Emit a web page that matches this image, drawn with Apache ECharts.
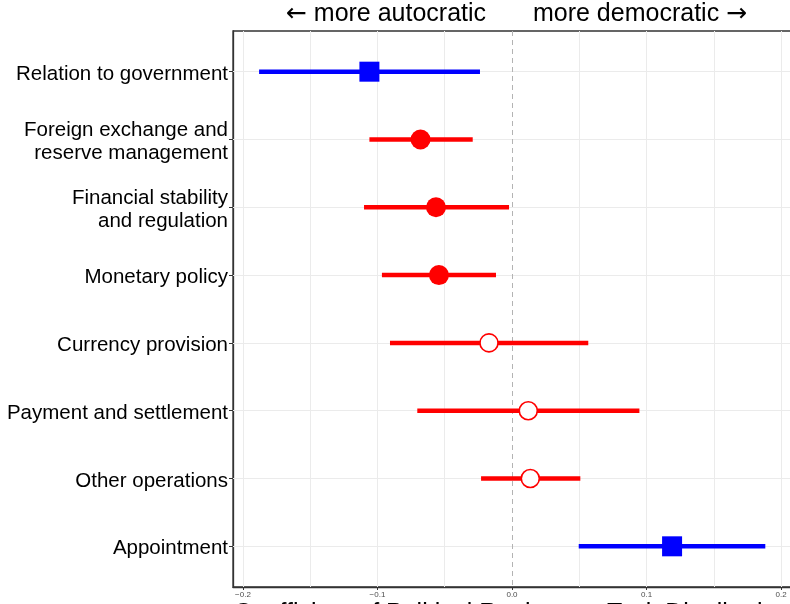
<!DOCTYPE html>
<html>
<head>
<meta charset="utf-8">
<title>Political regime and task distribution</title>
<script src="https://cdn.jsdelivr.net/npm/echarts@6/dist/echarts.min.js"></script>
<style>
  html, body { margin: 0; padding: 0; background: #fff; }
  #chart { width: 790px; height: 604px; }
</style>
</head>
<body>
<div id="chart"></div>
<script>
// Task categories, top to bottom
const categories = [
  'Relation to government',
  'Foreign exchange and\nreserve management',
  'Financial stability\nand regulation',
  'Monetary policy',
  'Currency provision',
  'Payment and settlement',
  'Other operations',
  'Appointment'
];

// Point estimates and interval bounds per category
const estimates = [-0.106, -0.068, -0.0565, -0.0543, -0.0171, 0.0121, 0.0136, 0.119];
const lower     = [-0.188, -0.106, -0.110, -0.0967, -0.0907, -0.0704, -0.023, 0.0496];
const upper     = [-0.0238, -0.0292, -0.0022, -0.0119, 0.0567, 0.0947, 0.0508, 0.1883];

// Marker group per category: 'square' (blue), 'solid' (red dot), 'open' (red ring)
const markerGroup = ['square', 'solid', 'solid', 'solid', 'open', 'open', 'open', 'square'];

// Axis ticks
const xTickValues = [-0.2, -0.1, 0.0, 0.1, 0.2];
const xGridValues = [-0.2, -0.15, -0.1, -0.05, 0.05, 0.1, 0.15, 0.2];

const BLUE = '#0000ff';
const RED = '#ff0000';
const colorOf = g => (g === 'square' ? BLUE : RED);

const idx = categories.map((_, i) => i);

function pointsOf(group) {
  return idx.filter(i => markerGroup[i] === group).map(i => [estimates[i], i]);
}

const barData = idx.map(i => ({
  value: [lower[i], upper[i], i],
  itemStyle: { color: colorOf(markerGroup[i]) }
}));

const headerStyle = {
  fontSize: 25, fontWeight: 'normal', color: '#000',
  rich: { arrow: { fontFamily: 'DejaVu Sans', fontSize: 25, color: '#000' } }
};

// category label: each line as a rich fragment so it sits a touch lower
function categoryLabel(v) {
  const name = categories[Math.round(v)];
  if (!name) return '';
  return name.split('\n').map(line => '{c|' + line + '}').join('\n');
}

const chart = echarts.init(document.getElementById('chart'), null, { renderer: 'canvas' });

chart.setOption({
  backgroundColor: '#ffffff',
  animation: false,
  textStyle: { fontFamily: 'Liberation Sans, Arial, sans-serif' },
  title: [
    {
      text: '{arrow|\u2190} more autocratic',
      left: 381, top: -3, textAlign: 'center',
      textStyle: headerStyle
    },
    {
      text: 'more democratic {arrow|\u2192}',
      left: 635, top: -3, textAlign: 'center',
      textStyle: headerStyle
    }
  ],
  grid: {
    left: 233, top: 31, width: 558, height: 556,
    outerBoundsMode: 'none',
    containLabel: false,
    show: true, borderColor: '#333333', borderWidth: 1.3
  },
  xAxis: {
    type: 'value',
    min: -0.2074, max: 0.2074,
    name: 'Coefficient of Political Regime on Task Distribution',
    nameLocation: 'middle',
    nameGap: 15,
    nameMoveOverlap: false,
    nameTextStyle: { fontSize: 25, color: '#000' },
    axisLine: { show: true, onZero: false, lineStyle: { color: '#333333', width: 1.3 } },
    axisTick: { show: true, length: 3, customValues: xTickValues, lineStyle: { color: '#333333' } },
    axisLabel: {
      customValues: xTickValues,
      fontSize: 8, color: '#4d4d4d', margin: 4,
      formatter: v => v.toFixed(1).replace('-', '\u2212')
    },
    splitLine: { show: false }
  },
  yAxis: {
    type: 'value',
    inverse: true,
    min: -0.6, max: categories.length - 0.4,
    axisLine: { show: true, onZero: false, lineStyle: { color: '#333333', width: 1.3 } },
    axisTick: { show: true, length: 4, customValues: idx, lineStyle: { color: '#333333' } },
    axisLabel: {
      customValues: idx,
      fontSize: 20.5, color: '#000', margin: 5,
      formatter: categoryLabel,
      rich: {
        c: { fontSize: 20.5, color: '#000', lineHeight: 22.5, padding: [5, 0, 0, 0] }
      }
    },
    splitLine: { show: false }
  },
  series: [
    {
      // panel grid lines and the zero reference
      type: 'scatter',
      data: [],
      silent: true,
      z: 1,
      markLine: {
        silent: true,
        z: 1,
        symbol: 'none',
        label: { show: false },
        animation: false,
        data: [
          ...xGridValues.map(v => ({
            xAxis: v, lineStyle: { color: '#ebebeb', width: 1, type: 'solid' }
          })),
          ...idx.map(i => ({
            yAxis: i, lineStyle: { color: '#ebebeb', width: 1, type: 'solid' }
          })),
          { xAxis: 0, lineStyle: { color: '#b3b3b3', width: 1, type: [5, 4] } }
        ]
      }
    },
    {
      // confidence intervals
      type: 'custom',
      z: 3,
      data: barData,
      renderItem: (params, api) => {
        const a = api.coord([api.value(0), api.value(2)]);
        const b = api.coord([api.value(1), api.value(2)]);
        return {
          type: 'line',
          shape: { x1: a[0], y1: a[1], x2: b[0], y2: b[1] },
          style: { stroke: api.visual('color'), lineWidth: 4.5 }
        };
      },
      encode: { x: [0, 1], y: 2 }
    },
    {
      type: 'scatter',
      z: 4,
      symbol: 'rect',
      symbolSize: 20,
      itemStyle: { color: BLUE, opacity: 1 },
      data: pointsOf('square')
    },
    {
      type: 'scatter',
      z: 4,
      symbol: 'circle',
      symbolSize: 20,
      itemStyle: { color: RED, opacity: 1 },
      data: pointsOf('solid')
    },
    {
      type: 'scatter',
      z: 4,
      symbol: 'circle',
      symbolSize: 18,
      itemStyle: { color: '#ffffff', borderColor: RED, borderWidth: 1.6, opacity: 1 },
      data: pointsOf('open')
    }
  ]
});
</script>
</body>
</html>
